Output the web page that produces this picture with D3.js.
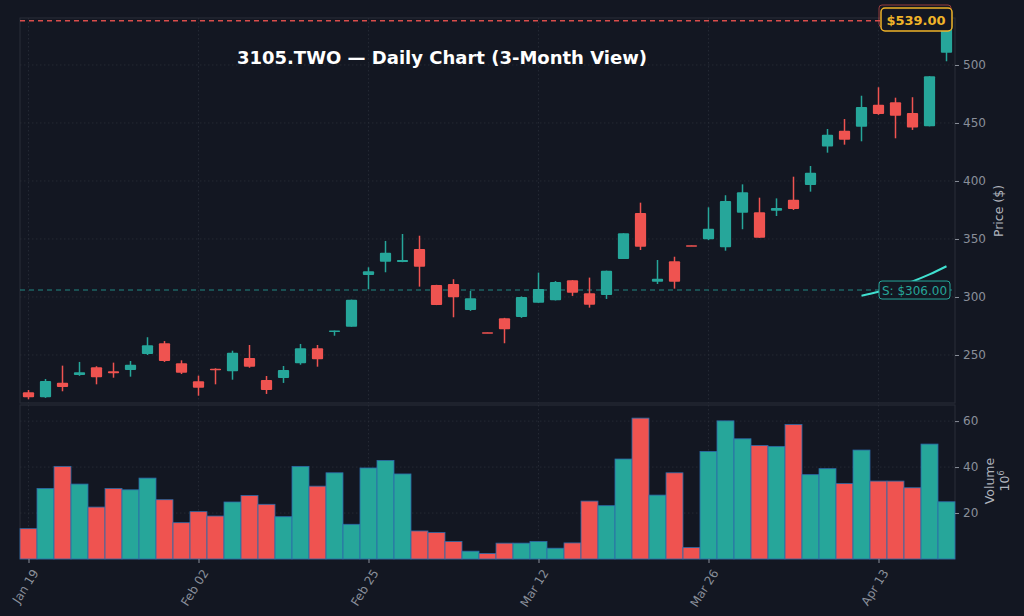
<!DOCTYPE html>
<html><head><meta charset="utf-8">
<script src="https://cdn.jsdelivr.net/npm/d3@7"></script>
<style>body{margin:0;background:#131722;}svg{display:block;font-family:"DejaVu Sans",sans-serif;}</style>
</head><body><svg id="c" width="1024" height="616"></svg>
<script>
const opens  = [217.8,213.5,226.1,232.8,239.4,235.9,237.1,250.9,260.1,242.8,227.3,238.2,235.9,247.4,228.4,230.2,242.8,255.8,270.1,274.4,319.0,330.4,330.2,341.4,310.3,311.2,288.8,269.5,281.6,282.8,295.1,297.2,314.4,303.2,301.7,332.8,372.4,313.2,330.8,344.6,349.7,342.8,372.7,373.0,374.4,383.9,396.6,429.8,443.3,446.8,465.8,467.8,458.6,447.1,510.6];
const closes = [213.5,227.6,222.4,235.1,230.8,234.2,241.6,258.4,244.8,234.7,221.8,236.8,252.0,239.9,219.8,237.1,255.8,246.3,271.0,297.7,322.2,338.2,331.9,326.1,293.1,299.7,298.9,269.2,272.2,300.0,306.9,312.9,303.7,293.4,322.7,354.9,343.4,315.8,313.2,344.3,358.9,382.8,390.3,351.1,376.7,375.9,407.2,439.9,435.6,463.8,457.8,456.3,446.0,490.3,539.0];
const highs  = [219.8,229.3,240.8,244.0,240.3,243.4,244.8,265.3,262.0,245.4,232.2,238.5,253.7,258.6,231.9,240.5,259.5,258.6,271.0,297.7,325.6,348.3,354.3,352.8,310.5,315.3,305.2,269.5,282.0,300.5,321.0,313.7,314.5,316.7,322.7,354.9,381.3,331.9,334.7,344.6,377.3,387.7,397.1,385.6,385.0,403.7,412.9,444.8,453.4,473.5,480.8,471.8,472.2,490.3,539.0];
const lows   = [211.8,213.0,218.7,232.0,224.7,230.4,231.3,250.0,244.0,233.6,214.9,224.7,228.7,239.0,216.4,225.9,241.6,239.9,266.6,274.4,306.6,321.3,330.0,308.9,293.0,282.5,288.0,269.2,260.1,282.0,295.0,297.0,300.9,290.8,298.3,332.8,340.5,311.2,307.2,344.3,349.0,339.9,358.4,351.0,369.8,375.0,390.8,424.4,431.3,434.2,457.0,436.8,444.0,447.1,503.2];
const volumes= [13.2,30.7,40.3,32.6,22.6,30.7,30.1,35.2,25.8,15.8,20.6,18.7,24.8,27.6,23.8,18.4,40.3,31.7,37.5,15.1,39.6,42.9,37.0,12.2,11.5,7.6,3.4,2.4,6.9,6.9,7.6,4.7,7.0,25.2,23.2,43.5,61.3,27.8,37.5,5.0,46.8,60.1,52.3,49.4,49.0,58.5,36.7,39.3,32.8,47.4,33.9,33.9,31.0,50.0,24.9];
const tickIdx = [0,10,20,30,40,50];
const tickLabels = ["Jan 19","Feb 02","Feb 25","Mar 12","Mar 26","Apr 13"];
const priceTicks = [250,300,350,400,450,500];
const volTicks = [20,40,60];
const support = 306, resistance = 539;
const trendIdx = [49,50,51,52,53,54];
const trendVals = [301,304.5,308.8,313.5,319.5,326.5];
const title = "3105.TWO — Daily Chart (3-Month View)";

const G="#26a69a", R="#ef5350", TXT="#8a8f9a";
const svg=d3.select("#c");
const L=20, Rt=955, pT=18, pB=403, vT=405, vB=559;
const n=opens.length;
const x=d3.scaleLinear().domain([-0.5,n-0.5]).range([L,Rt]);
const y=d3.scaleLinear().domain([208.6,540.5]).range([pB,pT]);
const yv=d3.scaleLinear().domain([0,67]).range([vB,vT]);
const bw=(x(1)-x(0));
const col=i=>closes[i]>=opens[i]?G:R;

const grid=svg.append("g").attr("stroke","#2a2e39").attr("stroke-dasharray","1.5,2.5").attr("stroke-width",0.8);
priceTicks.forEach(t=>grid.append("line").attr("x1",L).attr("x2",Rt).attr("y1",y(t)).attr("y2",y(t)));
volTicks.forEach(t=>grid.append("line").attr("x1",L).attr("x2",Rt).attr("y1",yv(t)).attr("y2",yv(t)));
tickIdx.forEach(t=>{grid.append("line").attr("x1",x(t)).attr("x2",x(t)).attr("y1",pT).attr("y2",pB);grid.append("line").attr("x1",x(t)).attr("x2",x(t)).attr("y1",vT).attr("y2",vB);});

svg.append("rect").attr("x",L).attr("y",pT).attr("width",Rt-L).attr("height",pB-pT).attr("fill","none").attr("stroke","#2a2e39");
svg.append("rect").attr("x",L).attr("y",vT).attr("width",Rt-L).attr("height",vB-vT).attr("fill","none").attr("stroke","#2a2e39");

svg.append("line").attr("x1",L).attr("x2",Rt).attr("y1",y(support)).attr("y2",y(support)).attr("stroke",G).attr("stroke-dasharray","5,4").attr("stroke-width",1.2).attr("opacity",0.8);
svg.append("line").attr("x1",L).attr("x2",Rt).attr("y1",y(resistance)+1).attr("y2",y(resistance)+1).attr("stroke",R).attr("stroke-dasharray","5,4").attr("stroke-width",1.3).attr("opacity",0.9);

const cg=svg.append("g");
d3.range(n).forEach(i=>{
  const c=col(i), cx=x(i);
  cg.append("line").attr("x1",cx).attr("x2",cx).attr("y1",y(highs[i])).attr("y2",y(lows[i])).attr("stroke",c).attr("stroke-width",1.5);
  const t=y(Math.max(opens[i],closes[i])), b=y(Math.min(opens[i],closes[i]));
  cg.append("rect").attr("x",cx-bw*0.33).attr("width",bw*0.66).attr("y",t).attr("height",Math.max(1.5,b-t)).attr("fill",c).attr("rx",1);
});

svg.append("path").datum(trendIdx.map((d,k)=>[d,trendVals[k]])).attr("d",d3.line().x(d=>x(d[0])).y(d=>y(d[1])).curve(d3.curveMonotoneX))
 .attr("fill","none").attr("stroke","#40e0d0").attr("stroke-width",2);

const vg=svg.append("g");
d3.range(n).forEach(i=>{
  vg.append("rect").attr("x",x(i)-bw/2).attr("width",bw).attr("y",yv(volumes[i])).attr("height",yv(0)-yv(volumes[i]))
   .attr("fill",col(i)).attr("stroke","#2c6aa8").attr("stroke-width",0.8);
});

const ax=d3.axisRight(y).tickValues(priceTicks).tickSize(4).tickPadding(4);
const ga=svg.append("g").attr("transform",`translate(${Rt},0)`).call(ax);
const av=d3.axisRight(yv).tickValues(volTicks).tickSize(4).tickPadding(4);
const gv=svg.append("g").attr("transform",`translate(${Rt},0)`).call(av);
const axb=d3.axisBottom(x).tickValues(tickIdx).tickFormat((d,k)=>tickLabels[k]).tickSize(4);
const gb=svg.append("g").attr("transform",`translate(0,${vB})`).call(axb);
[ga,gv,gb].forEach(g=>{g.select(".domain").remove();g.selectAll("line").attr("stroke",TXT);g.selectAll("text").attr("fill",TXT).attr("font-size",12).attr("font-family","DejaVu Sans");});
gb.selectAll("text").attr("text-anchor","end").attr("dx",0).attr("dy",0).attr("transform","translate(4,10) rotate(-58)");

svg.append("text").attr("transform","translate(1003,211) rotate(-90)").attr("text-anchor","middle").attr("fill","#b0b4bd").attr("font-size",12.5).text("Price ($)");
svg.append("text").attr("transform","translate(994,481) rotate(-90)").attr("text-anchor","middle").attr("fill","#b0b4bd").attr("font-size",12.5).text("Volume");
const t6=svg.append("text").attr("transform","translate(1009,481) rotate(-90)").attr("text-anchor","middle").attr("fill","#b0b4bd").attr("font-size",12.5);
t6.append("tspan").text("10");t6.append("tspan").attr("font-size",8).attr("dy",-5).text("6");

svg.append("text").attr("x",442).attr("y",63.5).attr("text-anchor","middle").attr("fill","#ffffff").attr("font-weight","bold").attr("font-size",18).text(title);

svg.append("rect").attr("x",879).attr("y",5).attr("width",72).attr("height",22).attr("rx",3).attr("fill","none").attr("stroke",R).attr("opacity",0.6);
svg.append("rect").attr("x",881).attr("y",8).attr("width",71).attr("height",23).attr("rx",4).attr("fill","#131722").attr("stroke","#f0b429").attr("stroke-width",1.5);
svg.append("text").attr("x",916).attr("y",24.5).attr("text-anchor","middle").attr("fill","#f0b429").attr("font-weight","bold").attr("font-size",13).text("$"+resistance.toFixed(2));
svg.append("rect").attr("x",879).attr("y",y(support)-9).attr("width",71).attr("height",18).attr("rx",3).attr("fill","#131722").attr("stroke",G);
svg.append("text").attr("x",914.5).attr("y",y(support)+4.5).attr("text-anchor","middle").attr("fill",G).attr("font-size",12).text("S: $"+support.toFixed(2));
</script></body></html>
